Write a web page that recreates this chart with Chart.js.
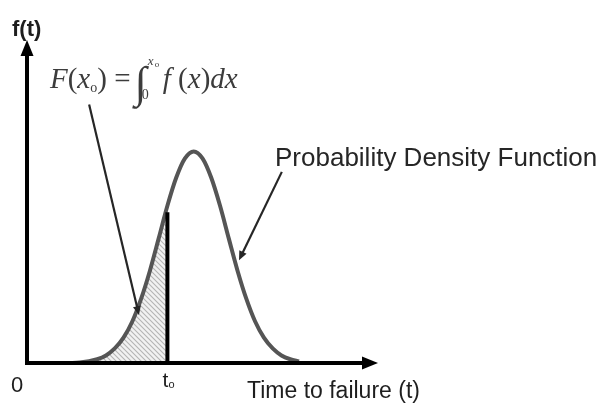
<!DOCTYPE html>
<html>
<head>
<meta charset="utf-8">
<script src="https://cdn.jsdelivr.net/npm/chart.js@4.4.1/dist/chart.umd.min.js"></script>
<style>
  body { margin: 0; background: #fff; }
  #pdfChart { display: block; }
</style>
</head>
<body>
<canvas id="pdfChart" width="603" height="405"></canvas>
<script>
// time axis samples and the density read at each one
const tValues = [0.5, 1.0, 1.5, 2.0, 2.25, 2.5, 2.75, 3.0, 3.25, 3.5, 3.75, 4.0, 4.25, 4.5, 4.75, 5.0, 5.25, 5.5, 5.75, 6.0, 6.25, 6.5, 6.75, 7.0, 7.25, 7.5, 7.75];
const density = [0.000, 0.000, 0.001, 0.007, 0.014, 0.027, 0.047, 0.077, 0.119, 0.171, 0.231, 0.292, 0.344, 0.380, 0.393, 0.380, 0.344, 0.292, 0.231, 0.171, 0.119, 0.077, 0.047, 0.027, 0.014, 0.007, 0.003];

// t0 marker and the height of its vertical line
const failureTime = 4.0;
const markerHeight = 0.28;

// axis ranges (no ticks drawn, only arrows)
const xRange = [0, 10];
const yRange = [0, 0.6];

// annotation arrows, [from, to] in data units
const formulaArrow = [[1.77, 0.48], [3.19, 0.089]];
const curveArrow = [[7.26, 0.355], [6.04, 0.191]];

document.addEventListener("DOMContentLoaded", function () {
  const curvePoints = tValues.map((t, i) => ({ x: t, y: density[i] }));
  const shadedPoints = curvePoints.filter((p) => p.x <= failureTime);

  // diagonal hatch for the area under the curve up to t0
  const tile = document.createElement("canvas");
  tile.width = 5;
  tile.height = 5;
  const tc = tile.getContext("2d");
  tc.fillStyle = "#f2f2f2";
  tc.fillRect(0, 0, 5, 5);
  tc.strokeStyle = "#b4b4b4";
  tc.lineWidth = 1.1;
  tc.beginPath();
  tc.moveTo(-1, -1); tc.lineTo(6, 6);
  tc.moveTo(-1, 4); tc.lineTo(1, 6);
  tc.moveTo(4, -1); tc.lineTo(6, 1);
  tc.stroke();
  const hatch = tc.createPattern(tile, "repeat");

  function arrow(ctx, x1, y1, x2, y2, width, len, half) {
    const ang = Math.atan2(y2 - y1, x2 - x1);
    ctx.beginPath();
    ctx.moveTo(x1, y1);
    ctx.lineTo(x2 - Math.cos(ang) * len * 0.8, y2 - Math.sin(ang) * len * 0.8);
    ctx.lineWidth = width;
    ctx.stroke();
    ctx.beginPath();
    ctx.moveTo(x2, y2);
    ctx.lineTo(x2 - Math.cos(ang) * len + Math.sin(ang) * half, y2 - Math.sin(ang) * len - Math.cos(ang) * half);
    ctx.lineTo(x2 - Math.cos(ang) * len - Math.sin(ang) * half, y2 - Math.sin(ang) * len + Math.cos(ang) * half);
    ctx.closePath();
    ctx.fill();
  }

  // F(x0) = integral from 0 to x0 of f(x)dx
  function drawFormula(ctx, x, base) {
    const serif = '"Liberation Serif", "Times New Roman", serif';
    const parts = [
      ["F", "italic 29px " + serif, 0],
      ["(", "29px " + serif, 0],
      ["x", "italic 29px " + serif, 0],
      ["o", "14px " + serif, 4],
      [")", "29px " + serif, 0],
      [" = ", "29px " + serif, 0],
    ];
    ctx.fillStyle = "#3c3c3c";
    ctx.textAlign = "left";
    ctx.textBaseline = "alphabetic";
    parts.forEach(([s, f, dy]) => {
      ctx.font = f;
      ctx.fillText(s, x, base + dy);
      x += ctx.measureText(s).width;
    });
    // integral sign with limits
    ctx.font = "44px " + serif;
    ctx.fillText("\u222B", x - 3, base + 9);
    const intW = ctx.measureText("\u222B").width;
    ctx.font = "italic 13px " + serif;
    ctx.fillText("x", x + intW - 2, base - 23);
    ctx.font = "9px " + serif;
    ctx.fillText("o", x + intW + 5, base - 21);
    ctx.font = "14px " + serif;
    ctx.fillText("0", x + intW - 8, base + 11);
    x += intW + 13;
    const tail = [
      ["f", "italic 29px " + serif],
      [" (", "29px " + serif],
      ["x", "italic 29px " + serif],
      [")", "29px " + serif],
      ["dx", "italic 29px " + serif],
    ];
    tail.forEach(([s, f]) => {
      ctx.font = f;
      ctx.fillText(s, x, base);
      x += ctx.measureText(s).width;
    });
  }

  const overlay = {
    id: "overlay",
    afterDatasetsDraw(chart) {
      const ctx = chart.ctx;
      const xs = chart.scales.x;
      const ys = chart.scales.y;
      const x0 = xs.getPixelForValue(xRange[0]);
      const y0 = ys.getPixelForValue(yRange[0]);
      const xEnd = xs.getPixelForValue(xRange[1]);
      const yTop = ys.getPixelForValue(yRange[1]);

      ctx.save();
      ctx.strokeStyle = "#000";
      ctx.fillStyle = "#000";
      ctx.lineCap = "butt";
      // axes with arrow heads
      ctx.beginPath();
      ctx.moveTo(x0, y0 + 2);
      ctx.lineTo(x0, yTop + 10);
      ctx.moveTo(x0 - 2, y0);
      ctx.lineTo(xEnd - 10, y0);
      ctx.lineWidth = 4;
      ctx.stroke();
      ctx.beginPath();
      ctx.moveTo(x0, yTop);
      ctx.lineTo(x0 - 6.5, yTop + 16);
      ctx.lineTo(x0 + 6.5, yTop + 16);
      ctx.closePath();
      ctx.fill();
      ctx.beginPath();
      ctx.moveTo(xEnd, y0);
      ctx.lineTo(xEnd - 16, y0 - 6.5);
      ctx.lineTo(xEnd - 16, y0 + 6.5);
      ctx.closePath();
      ctx.fill();

      // pointer arrows
      ctx.strokeStyle = "#262626";
      ctx.fillStyle = "#262626";
      [formulaArrow, curveArrow].forEach(([a, b]) => {
        arrow(ctx, xs.getPixelForValue(a[0]), ys.getPixelForValue(a[1]),
          xs.getPixelForValue(b[0]), ys.getPixelForValue(b[1]), 2.2, 9, 4);
      });

      // labels
      const sans = '"Liberation Sans", Arial, sans-serif';
      ctx.fillStyle = "#1e1e1e";
      ctx.textBaseline = "alphabetic";
      ctx.textAlign = "left";
      ctx.font = "bold 22px " + sans;
      ctx.fillText("f(t)", 12, 36);
      ctx.font = "22px " + sans;
      ctx.fillText("0", 11, 392);
      ctx.font = "21px " + sans;
      ctx.fillText("t", xs.getPixelForValue(failureTime) - 5, 387);
      ctx.font = "11px " + sans;
      ctx.fillText("o", xs.getPixelForValue(failureTime) + 1, 388);
      ctx.font = "23px " + sans;
      ctx.fillText("Time to failure (t)", 247, 398);
      ctx.font = "26px " + sans;
      ctx.fillStyle = "#262626";
      ctx.fillText("Probability Density Function", 275, 166);

      drawFormula(ctx, 50, 88);
      ctx.restore();
    },
  };

  // lower order is drawn on top: t0 line, then curve, then hatch underneath
  new Chart(document.getElementById("pdfChart"), {
    type: "line",
    data: {
      datasets: [
        {
          label: "F(x0)",
          data: shadedPoints,
          fill: "origin",
          backgroundColor: hatch,
          borderWidth: 0,
          pointRadius: 0,
          cubicInterpolationMode: "monotone",
          order: 3,
        },
        {
          label: "Probability Density Function",
          data: curvePoints,
          fill: false,
          borderColor: "#555555",
          borderWidth: 4,
          pointRadius: 0,
          cubicInterpolationMode: "monotone",
          order: 2,
        },
        {
          label: "t0",
          data: [
            { x: failureTime, y: 0 },
            { x: failureTime, y: markerHeight },
          ],
          fill: false,
          borderColor: "#000",
          borderWidth: 4,
          pointRadius: 0,
          order: 1,
        },
      ],
    },
    options: {
      responsive: false,
      animation: false,
      devicePixelRatio: 1,
      layout: { padding: { left: 27, right: 225, top: 40, bottom: 42 } },
      scales: {
        x: { type: "linear", min: xRange[0], max: xRange[1], display: false },
        y: { min: yRange[0], max: yRange[1], display: false },
      },
      plugins: {
        legend: { display: false },
        tooltip: { enabled: false },
      },
    },
    plugins: [overlay],
  });
});
</script>
</body>
</html>
